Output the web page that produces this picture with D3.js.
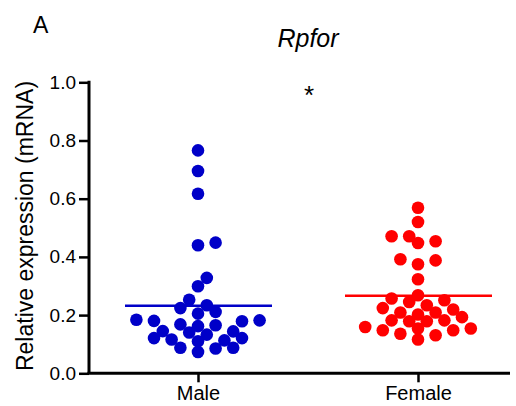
<!DOCTYPE html>
<html>
<head>
<meta charset="utf-8">
<script src="https://cdn.jsdelivr.net/npm/d3@7"></script>
<style>
  html, body { margin: 0; padding: 0; background: #fff; }
  svg { display: block; font-family: Arial, "Liberation Sans", sans-serif; }
</style>
</head>
<body>
<svg id="chart" width="516" height="406"></svg>
<script>
// Relative Rpfor mRNA expression per animal
const categories = ["Male", "Female"];
const maleValues = [
  0.766, 0.695, 0.617, 0.449, 0.440,
  0.328, 0.299, 0.253, 0.234, 0.224, 0.211, 0.205,
  0.184, 0.182, 0.180, 0.179, 0.168, 0.165, 0.162,
  0.145, 0.144, 0.140, 0.133, 0.121, 0.121, 0.116, 0.113, 0.110,
  0.088, 0.088, 0.085, 0.073
];
const femaleValues = [
  0.569, 0.520, 0.471, 0.471, 0.454, 0.448,
  0.392, 0.388, 0.375, 0.323,
  0.268, 0.257, 0.251, 0.245, 0.234, 0.224, 0.219, 0.209, 0.209, 0.202,
  0.193, 0.182, 0.182, 0.179, 0.179, 0.159, 0.154, 0.154, 0.148, 0.148,
  0.136, 0.131, 0.116
];
const yTicks = [0, 0.2, 0.4, 0.6, 0.8, 1.0];
const yTickLabels = ["0.0", "0.2", "0.4", "0.6", "0.8", "1.0"];
const groupColors = ["#0000c8", "#ff0000"];
const titleText = "Rpfor";
const panelLabel = "A";
const yLabel = "Relative expression (mRNA)";
const significance = "*";

const groups = [maleValues, femaleValues];

const svg = d3.select("#chart");

const axisX = 89, axisRight = 510;
const y = d3.scaleLinear().domain([0, 1]).range([373.3, 82.3]);
const x = d3.scalePoint().domain(categories).range([198, 418]);

const dotR = 6.3;
const step = 8.8;
const minDist = 10.6;

// Symmetric beeswarm: each point takes the free slot nearest the group centre
function swarm(values) {
  const sorted = values.map(v => ({ v, py: y(v) })).sort((a, b) => a.v - b.v);
  const placed = [];
  sorted.forEach(d => {
    for (let k = 0; k < 40; k++) {
      const slot = k === 0 ? 0 : (k % 2 ? (k + 1) / 2 : -k / 2);
      const dx = slot * step;
      const ok = placed.every(p => Math.hypot(p.dx - dx, p.py - d.py) >= minDist);
      if (ok) { d.dx = dx; placed.push(d); break; }
    }
  });
  return placed;
}

// Y axis
const yAxis = d3.axisLeft(y).tickValues(yTicks)
  .tickFormat((d, i) => yTickLabels[i]).tickSize(10).tickPadding(3).tickSizeOuter(0);
const gy = svg.append("g").attr("transform", `translate(${axisX},0)`).call(yAxis);
gy.select(".domain").attr("stroke", "#000").attr("stroke-width", 3)
  .attr("d", `M0,${y(1) - 1.5}V${y(0)}`);
gy.selectAll(".tick line").attr("stroke", "#000").attr("stroke-width", 2.5);
gy.selectAll(".tick text").attr("font-size", 19).attr("fill", "#000")
  .attr("font-family", "Arial, 'Liberation Sans', sans-serif");

// X axis
const xAxis = d3.axisBottom(x).tickSize(9).tickPadding(4).tickSizeOuter(0);
const gx = svg.append("g").attr("transform", `translate(0,${y(0)})`).call(xAxis);
gx.select(".domain").attr("stroke", "#000").attr("stroke-width", 3)
  .attr("d", `M${axisX - 1.5},0H${axisRight}`);
gx.selectAll(".tick line").attr("stroke", "#000").attr("stroke-width", 2.5);
gx.selectAll(".tick text").attr("font-size", 20).attr("fill", "#000")
  .attr("font-family", "Arial, 'Liberation Sans', sans-serif");

// Dots and mean lines
groups.forEach((vals, gi) => {
  const cx = x(categories[gi]);
  const pts = swarm(vals);
  const g = svg.append("g");
  g.selectAll("circle").data(pts).join("circle")
    .attr("cx", d => cx + d.dx)
    .attr("cy", d => d.py)
    .attr("r", dotR)
    .attr("fill", groupColors[gi]);
  const m = d3.mean(vals);
  g.append("line")
    .attr("x1", cx - 73).attr("x2", cx + 74)
    .attr("y1", y(m)).attr("y2", y(m))
    .attr("stroke", groupColors[gi]).attr("stroke-width", 2.5);
});

// Labels
svg.append("text").attr("x", 33).attr("y", 33).attr("font-size", 23).text(panelLabel);
svg.append("text").attr("x", 308).attr("y", 47).attr("text-anchor", "middle")
  .attr("font-size", 25).attr("font-style", "italic").text(titleText);
svg.append("text").attr("x", 309).attr("y", 104).attr("text-anchor", "middle")
  .attr("font-size", 26).text(significance);
svg.append("text").attr("transform", "translate(33,226) rotate(-90)")
  .attr("text-anchor", "middle").attr("font-size", 23).text(yLabel);
</script>
</body>
</html>
